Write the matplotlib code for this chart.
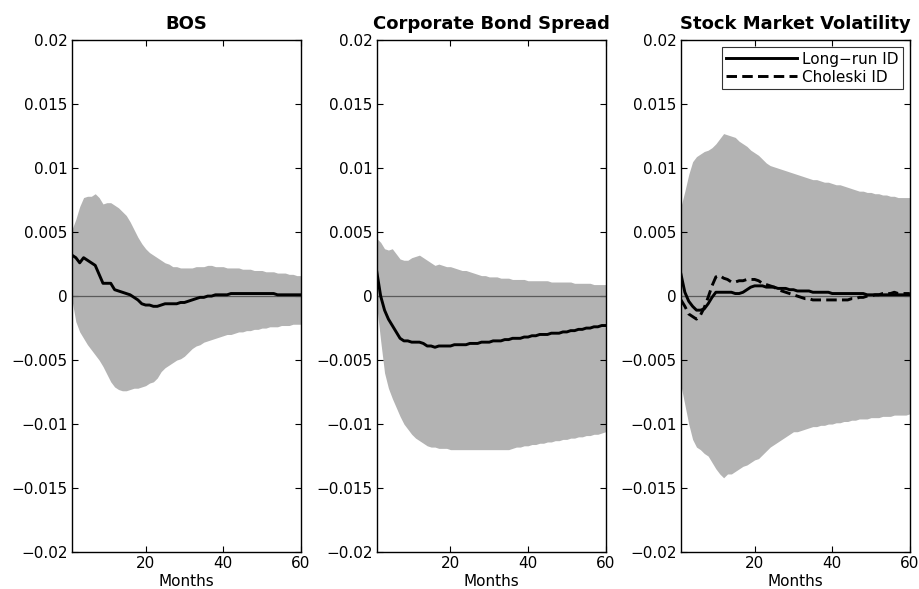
import numpy as np
import matplotlib.pyplot as plt
from matplotlib.ticker import FixedLocator

plt.rcParams['font.family'] = ['DejaVu Sans']

months = np.arange(1, 61)

titles = ['BOS', 'Corporate Bond Spread', 'Stock Market Volatility']
x_ticks = [20, 40, 60]
x_tick_labels = ['20', '40', '60']
y_ticks = [-0.02, -0.015, -0.01, -0.005, 0, 0.005, 0.01, 0.015, 0.02]
y_tick_labels = ['\u22120.02', '\u22120.015', '\u22120.01', '\u22120.005', '0',
                 '0.005', '0.01', '0.015', '0.02']
legend_labels = ['Long\u2212run ID', 'Choleski ID']

# BOS
bos_upper = [0.0052, 0.0060, 0.0070, 0.0077, 0.0078, 0.0078, 0.0080, 0.0077, 0.0072, 0.0073,
             0.0073, 0.0071, 0.0069, 0.0066, 0.0063, 0.0058, 0.0052, 0.0046, 0.0041, 0.0037,
             0.0034, 0.0032, 0.0030, 0.0028, 0.0026, 0.0025, 0.0023, 0.0023, 0.0022, 0.0022,
             0.0022, 0.0022, 0.0023, 0.0023, 0.0023, 0.0024, 0.0024, 0.0023, 0.0023, 0.0023,
             0.0022, 0.0022, 0.0022, 0.0022, 0.0021, 0.0021, 0.0021, 0.0020, 0.0020, 0.0020,
             0.0019, 0.0019, 0.0019, 0.0018, 0.0018, 0.0018, 0.0017, 0.0017, 0.0016, 0.0016]
bos_lower = [-0.0003, -0.0020, -0.0028, -0.0033, -0.0038, -0.0042, -0.0046, -0.0050, -0.0055, -0.0061,
             -0.0067, -0.0071, -0.0073, -0.0074, -0.0074, -0.0073, -0.0072, -0.0072, -0.0071, -0.0070,
             -0.0068, -0.0067, -0.0064, -0.0059, -0.0056, -0.0054, -0.0052, -0.0050, -0.0049, -0.0047,
             -0.0044, -0.0041, -0.0039, -0.0038, -0.0036, -0.0035, -0.0034, -0.0033, -0.0032, -0.0031,
             -0.0030, -0.0030, -0.0029, -0.0028, -0.0028, -0.0027, -0.0027, -0.0026, -0.0026, -0.0025,
             -0.0025, -0.0024, -0.0024, -0.0024, -0.0023, -0.0023, -0.0023, -0.0022, -0.0022, -0.0022]
bos_irf = [0.0032, 0.0030, 0.0026, 0.0030, 0.0028, 0.0026, 0.0024, 0.0017, 0.0010, 0.0010,
           0.0010, 0.0005, 0.0004, 0.0003, 0.0002, 0.0001, -0.0001, -0.0003, -0.0006, -0.0007,
           -0.0007, -0.0008, -0.0008, -0.0007, -0.0006, -0.0006, -0.0006, -0.0006, -0.0005, -0.0005,
           -0.0004, -0.0003, -0.0002, -0.0001, -0.0001, 0.0000, 0.0000, 0.0001, 0.0001, 0.0001,
           0.0001, 0.0002, 0.0002, 0.0002, 0.0002, 0.0002, 0.0002, 0.0002, 0.0002, 0.0002,
           0.0002, 0.0002, 0.0002, 0.0001, 0.0001, 0.0001, 0.0001, 0.0001, 0.0001, 0.0001]

# Corporate bond spread
cbs_upper = [0.0045, 0.0042, 0.0037, 0.0036, 0.0037, 0.0033, 0.0029, 0.0028, 0.0028, 0.0030,
             0.0031, 0.0032, 0.0030, 0.0028, 0.0026, 0.0024, 0.0025, 0.0024, 0.0023, 0.0023,
             0.0022, 0.0021, 0.0020, 0.0020, 0.0019, 0.0018, 0.0017, 0.0016, 0.0016, 0.0015,
             0.0015, 0.0015, 0.0014, 0.0014, 0.0014, 0.0013, 0.0013, 0.0013, 0.0013, 0.0012,
             0.0012, 0.0012, 0.0012, 0.0012, 0.0012, 0.0011, 0.0011, 0.0011, 0.0011, 0.0011,
             0.0011, 0.0010, 0.0010, 0.0010, 0.0010, 0.0010, 0.0009, 0.0009, 0.0009, 0.0009]
cbs_lower = [-0.0008, -0.0035, -0.0060, -0.0072, -0.0080, -0.0087, -0.0094, -0.0100, -0.0104, -0.0108,
             -0.0111, -0.0113, -0.0115, -0.0117, -0.0118, -0.0118, -0.0119, -0.0119, -0.0119, -0.0120,
             -0.0120, -0.0120, -0.0120, -0.0120, -0.0120, -0.0120, -0.0120, -0.0120, -0.0120, -0.0120,
             -0.0120, -0.0120, -0.0120, -0.0120, -0.0120, -0.0119, -0.0118, -0.0118, -0.0117, -0.0117,
             -0.0116, -0.0116, -0.0115, -0.0115, -0.0114, -0.0114, -0.0113, -0.0113, -0.0112, -0.0112,
             -0.0111, -0.0111, -0.0110, -0.0110, -0.0109, -0.0109, -0.0108, -0.0108, -0.0107, -0.0106]
cbs_irf = [0.0019, 0.0000, -0.0011, -0.0018, -0.0023, -0.0028, -0.0033, -0.0035, -0.0035, -0.0036,
           -0.0036, -0.0036, -0.0037, -0.0039, -0.0039, -0.0040, -0.0039, -0.0039, -0.0039, -0.0039,
           -0.0038, -0.0038, -0.0038, -0.0038, -0.0037, -0.0037, -0.0037, -0.0036, -0.0036, -0.0036,
           -0.0035, -0.0035, -0.0035, -0.0034, -0.0034, -0.0033, -0.0033, -0.0033, -0.0032, -0.0032,
           -0.0031, -0.0031, -0.0030, -0.0030, -0.0030, -0.0029, -0.0029, -0.0029, -0.0028, -0.0028,
           -0.0027, -0.0027, -0.0026, -0.0026, -0.0025, -0.0025, -0.0024, -0.0024, -0.0023, -0.0023]

# Stock market volatility
vol_upper = [0.0070, 0.0082, 0.0095, 0.0105, 0.0109, 0.0111, 0.0113, 0.0114, 0.0116, 0.0119,
             0.0123, 0.0127, 0.0126, 0.0125, 0.0124, 0.0121, 0.0119, 0.0117, 0.0114, 0.0112,
             0.0110, 0.0107, 0.0104, 0.0102, 0.0101, 0.0100, 0.0099, 0.0098, 0.0097, 0.0096,
             0.0095, 0.0094, 0.0093, 0.0092, 0.0091, 0.0091, 0.0090, 0.0089, 0.0089, 0.0088,
             0.0087, 0.0087, 0.0086, 0.0085, 0.0084, 0.0083, 0.0082, 0.0082, 0.0081, 0.0081,
             0.0080, 0.0080, 0.0079, 0.0079, 0.0078, 0.0078, 0.0077, 0.0077, 0.0077, 0.0077]
vol_lower = [-0.0070, -0.0085, -0.0100, -0.0112, -0.0118, -0.0120, -0.0123, -0.0125, -0.0130, -0.0135,
             -0.0139, -0.0142, -0.0139, -0.0139, -0.0137, -0.0135, -0.0133, -0.0132, -0.0130, -0.0128,
             -0.0127, -0.0124, -0.0121, -0.0118, -0.0116, -0.0114, -0.0112, -0.0110, -0.0108, -0.0106,
             -0.0106, -0.0105, -0.0104, -0.0103, -0.0102, -0.0102, -0.0101, -0.0101, -0.0100, -0.0100,
             -0.0099, -0.0099, -0.0098, -0.0098, -0.0097, -0.0097, -0.0096, -0.0096, -0.0096, -0.0095,
             -0.0095, -0.0095, -0.0094, -0.0094, -0.0094, -0.0093, -0.0093, -0.0093, -0.0093, -0.0092]
vol_irf = [0.0017, 0.0003, -0.0004, -0.0008, -0.0011, -0.0011, -0.0010, -0.0006, -0.0001, 0.0003,
           0.0003, 0.0003, 0.0003, 0.0003, 0.0002, 0.0002, 0.0003, 0.0005, 0.0007, 0.0008,
           0.0008, 0.0008, 0.0007, 0.0007, 0.0007, 0.0006, 0.0006, 0.0006, 0.0005, 0.0005,
           0.0004, 0.0004, 0.0004, 0.0004, 0.0003, 0.0003, 0.0003, 0.0003, 0.0003, 0.0002,
           0.0002, 0.0002, 0.0002, 0.0002, 0.0002, 0.0002, 0.0002, 0.0002, 0.0001, 0.0001,
           0.0001, 0.0001, 0.0001, 0.0001, 0.0001, 0.0001, 0.0001, 0.0001, 0.0001, 0.0001]
vol_irf_chol = [-0.0003, -0.0008, -0.0014, -0.0016, -0.0018, -0.0015, -0.0009, -0.0001, 0.0008, 0.0015,
                0.0016, 0.0014, 0.0013, 0.0011, 0.0011, 0.0012, 0.0012, 0.0013, 0.0013, 0.0013,
                0.0012, 0.0010, 0.0009, 0.0008, 0.0007, 0.0005, 0.0004, 0.0003, 0.0002, 0.0001,
                0.0000, -0.0001, -0.0002, -0.0002, -0.0003, -0.0003, -0.0003, -0.0003, -0.0003, -0.0003,
                -0.0003, -0.0003, -0.0003, -0.0003, -0.0002, -0.0002, -0.0001, -0.0001, 0.0000, 0.0000,
                0.0001, 0.0001, 0.0002, 0.0002, 0.0002, 0.0003, 0.0002, 0.0002, 0.0002, 0.0002]

uppers = [bos_upper, cbs_upper, vol_upper]
lowers = [bos_lower, cbs_lower, vol_lower]
irfs = [bos_irf, cbs_irf, vol_irf]

fig = plt.figure(figsize=(9.19, 5.89), dpi=100)
lefts = [0.0783, 0.410, 0.741]

for i in range(3):
    ax = fig.add_axes([lefts[i], 0.0628, 0.249, 0.869])
    ax.fill_between(months, lowers[i], uppers[i], color='#b3b3b3', linewidth=0)
    ax.axhline(0, color='#5a5a5a', linewidth=0.9)
    ax.plot(months, irfs[i], color='black', linewidth=2.1, label=legend_labels[0])
    if i == 2:
        ax.plot(months, vol_irf_chol, color='black', linewidth=2.1,
                dashes=(3.6, 1.8), label=legend_labels[1])
        leg = ax.legend(loc='upper right', fontsize=11, frameon=True, fancybox=False,
                        handlelength=4.6, borderpad=0.3, labelspacing=0.2,
                        handletextpad=0.35, borderaxespad=0.45)
        leg.get_frame().set_edgecolor('black')
        leg.get_frame().set_linewidth(0.8)
    ax.set_xlim(1, 60)
    ax.set_ylim(-0.02, 0.02)
    ax.xaxis.set_major_locator(FixedLocator(x_ticks))
    ax.set_xticklabels(x_tick_labels)
    ax.yaxis.set_major_locator(FixedLocator(y_ticks))
    ax.set_yticklabels(y_tick_labels)
    ax.tick_params(direction='in', top=True, right=True, length=4, width=0.8,
                   labelsize=11, pad=3)
    for s in ax.spines.values():
        s.set_linewidth(1.0)
    ax.set_title(titles[i], fontsize=13, fontweight='bold', pad=8)
    ax.set_xlabel('Months', fontsize=11, labelpad=2)

fig.savefig('out.png', dpi=100)
